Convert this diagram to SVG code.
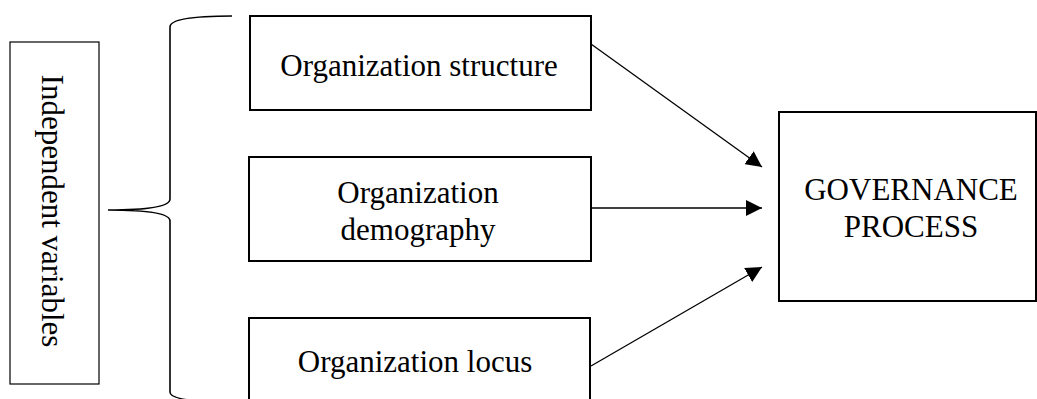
<svg xmlns="http://www.w3.org/2000/svg" width="1037" height="399" viewBox="0 0 1037 399">
<style>
  .box{fill:#fff;stroke:#000;stroke-width:2}
  .thin{fill:#fff;stroke:#000;stroke-width:1.2}
  .lbl{font-family:"Liberation Serif","Times New Roman",serif;font-size:31px;fill:#000;text-anchor:middle}
  .conn{fill:none;stroke:#000;stroke-width:1.3}
  .brace{fill:none;stroke:#000;stroke-width:1.6}
</style>
<defs>
  <marker id="ah" markerUnits="userSpaceOnUse" markerWidth="16" markerHeight="16" refX="16" refY="8" orient="auto">
    <path d="M0,0 L16,8 L0,16 z" fill="#000"/>
  </marker>
</defs>
<rect width="1037" height="399" fill="#fff"/>
<g id="independent-variables">
  <rect class="thin" x="10" y="42" width="89" height="342"/>
  <text class="lbl" transform="translate(42,211) rotate(90)" x="0" y="0">Independent variables</text>
</g>
<g id="brace">
  <path class="brace" d="M232,16 C195,16 170,19 170,27 L170,199 C170,206 150,210 108,210 C150,210 170,214 170,221 L170,392 C170,399 195,402 232,402"/>
</g>
<g id="org-structure">
  <rect class="box" x="250" y="16" width="341" height="94"/>
  <text class="lbl" x="419" y="76">Organization structure</text>
</g>
<g id="org-demography">
  <rect class="box" x="249" y="157" width="342" height="104"/>
  <text class="lbl" x="418" y="203">Organization</text>
  <text class="lbl" x="418" y="240">demography</text>
</g>
<g id="org-locus">
  <rect class="box" x="249" y="318" width="341" height="100"/>
  <text class="lbl" x="415" y="372">Organization locus</text>
</g>
<g id="governance-process">
  <rect class="box" x="779" y="112" width="257" height="189"/>
  <text class="lbl" x="911" y="200">GOVERNANCE</text>
  <text class="lbl" x="911" y="237">PROCESS</text>
</g>
<g id="connectors">
  <line class="conn" x1="591" y1="44" x2="762" y2="167" marker-end="url(#ah)"/>
  <line class="conn" x1="591" y1="208" x2="762" y2="208" marker-end="url(#ah)"/>
  <line class="conn" x1="591" y1="366" x2="762" y2="267" marker-end="url(#ah)"/>
</g>
</svg>
